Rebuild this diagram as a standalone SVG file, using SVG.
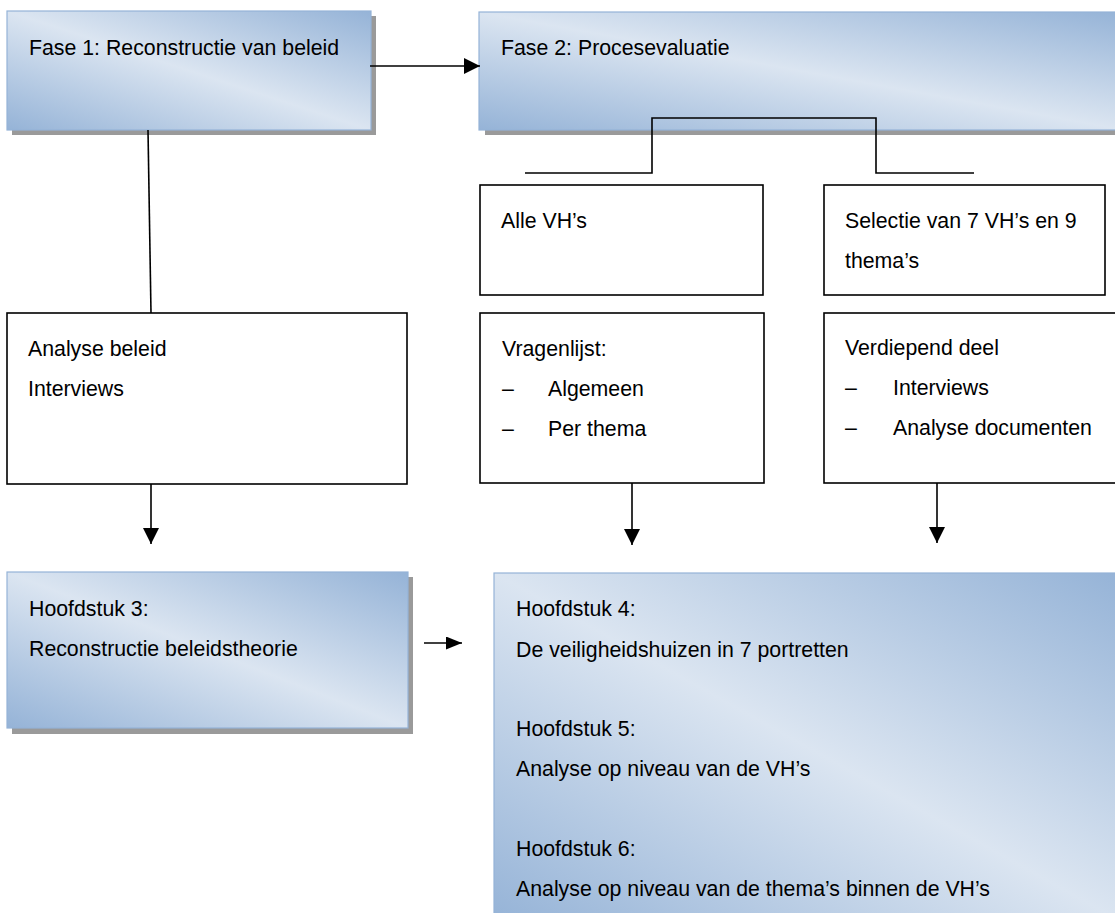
<svg xmlns="http://www.w3.org/2000/svg" width="1115" height="913" viewBox="0 0 1115 913">
<style>
  text { font-family: "Liberation Sans", Arial, sans-serif; font-size: 21.3px; fill: #000; }
  .grad { fill: url(#blueGrad); stroke: #95b3d7; stroke-width: 1.2; }
  .shadow { fill: #9a9a9a; }
  .plain { fill: #fff; stroke: #000; stroke-width: 1.6; }
  .conn { fill: none; stroke: #000; stroke-width: 1.6; }
</style>
<defs>
  <linearGradient id="blueGrad" x1="1" y1="0" x2="0" y2="1">
    <stop offset="0" stop-color="#95b3d7"/>
    <stop offset="0.5" stop-color="#dbe5f1"/>
    <stop offset="1" stop-color="#95b3d7"/>
  </linearGradient>
  <marker id="arrow" markerWidth="16" markerHeight="16" refX="16" refY="8" orient="auto" markerUnits="userSpaceOnUse">
    <path d="M0,0 L16,8 L0,16 Z" fill="#000"/>
  </marker>
  <marker id="arrowSmall" markerWidth="16" markerHeight="13" refX="16" refY="6.5" orient="auto" markerUnits="userSpaceOnUse">
    <path d="M0,0 L16,6.5 L0,13 Z" fill="#000"/>
  </marker>
</defs>
<rect width="1115" height="913" fill="#fff"/>

<g id="fase1">
  <rect class="shadow" x="12" y="16" width="364" height="119"/>
  <rect class="grad" x="7" y="11" width="364" height="119"/>
  <text x="29" y="55">Fase 1: Reconstructie van beleid</text>
</g>

<g id="fase2">
  <rect class="shadow" x="485" y="17" width="640" height="118"/>
  <rect class="grad" x="479" y="12" width="645" height="118"/>
  <text x="501" y="55">Fase 2: Procesevaluatie</text>
</g>

<g id="alle-vhs">
  <rect class="plain" x="480" y="185" width="283" height="110"/>
  <text x="501" y="228">Alle VH’s</text>
</g>

<g id="selectie">
  <rect class="plain" x="824" y="185" width="281" height="110"/>
  <text x="845" y="228">Selectie van 7 VH’s en 9</text>
  <text x="845" y="268">thema’s</text>
</g>

<g id="analyse-beleid">
  <rect class="plain" x="7" y="313" width="400" height="171"/>
  <text x="28" y="356">Analyse beleid</text>
  <text x="28" y="396">Interviews</text>
</g>

<g id="vragenlijst">
  <rect class="plain" x="480" y="313" width="284" height="170"/>
  <text x="502" y="356">Vragenlijst:</text>
  <text x="502" y="396">–</text>
  <text x="548" y="396">Algemeen</text>
  <text x="502" y="436">–</text>
  <text x="548" y="436">Per thema</text>
</g>

<g id="verdiepend">
  <rect class="plain" x="824" y="313" width="300" height="170"/>
  <text x="845" y="355">Verdiepend deel</text>
  <text x="845" y="395">–</text>
  <text x="893" y="395">Interviews</text>
  <text x="845" y="435">–</text>
  <text x="893" y="435">Analyse documenten</text>
</g>

<g id="hoofdstuk3">
  <rect class="shadow" x="12" y="577" width="401" height="157"/>
  <rect class="grad" x="7" y="572" width="401" height="156"/>
  <text x="29" y="616">Hoofdstuk 3:</text>
  <text x="29" y="656">Reconstructie beleidstheorie</text>
</g>

<g id="hoofdstuk4-6">
  <rect class="grad" x="494" y="573" width="630" height="350"/>
  <text x="516" y="616">Hoofdstuk 4:</text>
  <text x="516" y="657">De veiligheidshuizen in 7 portretten</text>
  <text x="516" y="736">Hoofdstuk 5:</text>
  <text x="516" y="776">Analyse op niveau van de VH’s</text>
  <text x="516" y="856">Hoofdstuk 6:</text>
  <text x="516" y="896">Analyse op niveau van de thema’s binnen de VH’s</text>
</g>

<g id="connectors">
  <line class="conn" x1="370" y1="66" x2="480" y2="66" marker-end="url(#arrow)"/>
  <line class="conn" x1="148" y1="130" x2="151" y2="313"/>
  <polyline class="conn" points="525,173 652,173 652,118 876,118 876,173 974,173"/>
  <line class="conn" x1="151" y1="484" x2="151" y2="544" marker-end="url(#arrow)"/>
  <line class="conn" x1="632" y1="483" x2="632" y2="545" marker-end="url(#arrow)"/>
  <line class="conn" x1="937" y1="483" x2="937" y2="543" marker-end="url(#arrow)"/>
  <line class="conn" x1="424" y1="643" x2="462" y2="643" marker-end="url(#arrowSmall)"/>
</g>
</svg>
